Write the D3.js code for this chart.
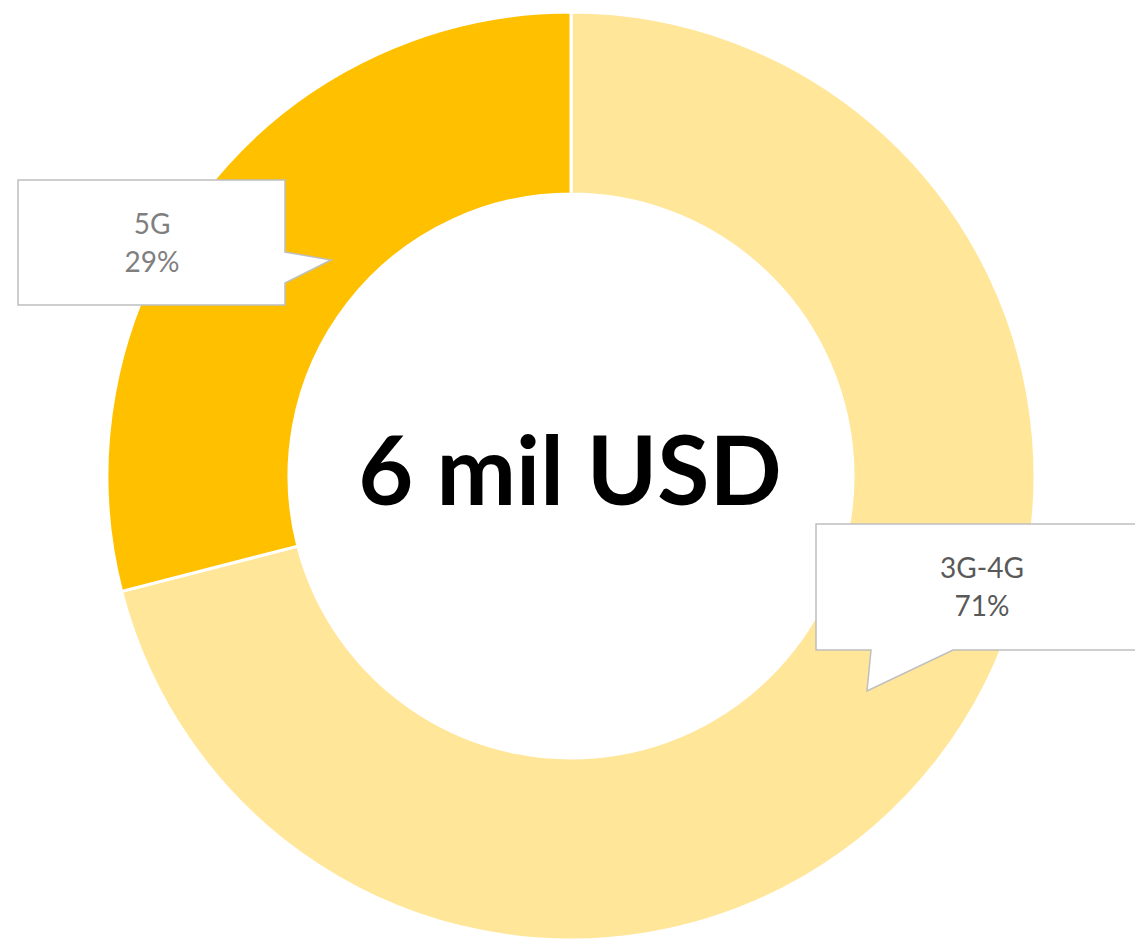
<!DOCTYPE html>
<html>
<head>
<meta charset="utf-8">
<script src="https://cdn.jsdelivr.net/npm/d3@7"></script>
<style>
  html, body { margin: 0; padding: 0; background: #fff; overflow: hidden; }
</style>
</head>
<body>
<div id="chart"></div>
<script>
// data
const categories = ['3G-4G', '5G'];
const values = [71, 29];
const sliceColors = ['#FFE699', '#FFC000'];
const labelColors = ['#595959', '#7F7F7F'];
const centerLabel = '6 mil USD';

const width = 1135, height = 939;
const cx = 571, cy = 476;
const outerR = 464, innerR = 282;

const svg = d3.select('#chart')
    .append('svg')
    .attr('width', width)
    .attr('height', height);

const g = svg.append('g')
    .attr('transform', `translate(${cx},${cy})`);

const pie = d3.pie().sort(null).value(d => d.value);
const arc = d3.arc().innerRadius(innerR).outerRadius(outerR);

const data = categories.map((c, i) => ({name: c, value: values[i], color: sliceColors[i], labelColor: labelColors[i]}));

g.selectAll('path.slice')
    .data(pie(data))
    .enter()
    .append('path')
    .attr('class', 'slice')
    .attr('d', arc)
    .attr('fill', d => d.data.color)
    .attr('stroke', '#fff')
    .attr('stroke-width', 3);

// Centro
g.append('text')
    .attr('x', -1)
    .attr('y', 29)
    .attr('text-anchor', 'middle')
    .attr('font-family', 'Lato, "Open Sans", sans-serif')
    .attr('font-weight', 'bold')
    .attr('font-size', 95)
    .attr('fill', '#000')
    .text(centerLabel);

// Callouts: box [x, y, w, h], tail side and tip
const callouts = [
    {box: [816, 524, 330, 126], tail: 'bottom', tailA: 871, tip: [867, 691], tailB: 953},
    {box: [18, 180, 267, 125], tail: 'right', tailA: 252, tip: [331, 260], tailB: 283}
];

function calloutPath(c) {
    const p = d3.path();
    const [x, y, w, h] = c.box;
    if (c.tail === 'right') {
        p.moveTo(x, y);
        p.lineTo(x + w, y);
        p.lineTo(x + w, c.tailA);
        p.lineTo(c.tip[0], c.tip[1]);
        p.lineTo(x + w, c.tailB);
        p.lineTo(x + w, y + h);
        p.lineTo(x, y + h);
    } else {
        p.moveTo(x, y);
        p.lineTo(x + w, y);
        p.lineTo(x + w, y + h);
        p.lineTo(c.tailB, y + h);
        p.lineTo(c.tip[0], c.tip[1]);
        p.lineTo(c.tailA, y + h);
        p.lineTo(x, y + h);
    }
    p.closePath();
    return p.toString();
}

const labels = svg.selectAll('g.callout')
    .data(pie(data))
    .enter()
    .append('g')
    .attr('class', 'callout');

labels.append('path')
    .attr('d', (d, i) => calloutPath(callouts[i]))
    .attr('fill', '#fff')
    .attr('stroke', '#BFBFBF')
    .attr('stroke-width', 1.5);

const textX = [982, 152];
const textY = [578, 234];

labels.append('text')
    .attr('text-anchor', 'middle')
    .attr('font-family', 'Lato, "Open Sans", sans-serif')
    .attr('font-size', 28)
    .attr('fill', d => d.data.labelColor)
    .each(function(d, i) {
        const t = d3.select(this);
        t.append('tspan').attr('x', textX[i]).attr('y', textY[i]).text(d.data.name);
        t.append('tspan').attr('x', textX[i]).attr('y', textY[i] + 38).text(Math.round(d.data.value) + '%');
    });
</script>
</body>
</html>
